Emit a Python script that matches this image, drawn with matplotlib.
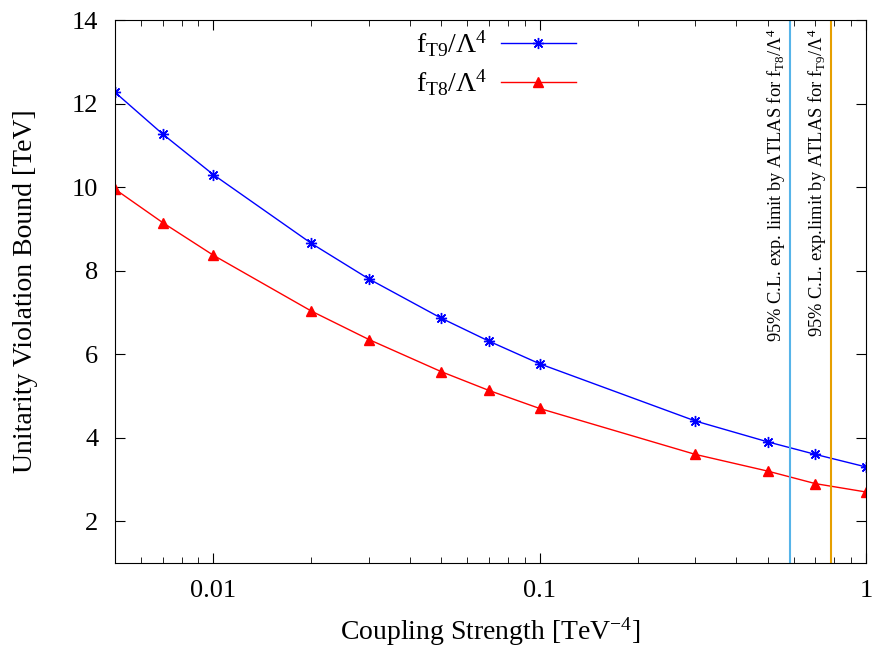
import matplotlib
matplotlib.use('Agg')
import matplotlib.pyplot as plt
from matplotlib.ticker import LogLocator, FixedLocator, NullFormatter

plt.rcParams['font.family'] = 'Liberation Serif'
plt.rcParams['mathtext.fontset'] = 'custom'
plt.rcParams['mathtext.rm'] = 'Liberation Serif'
plt.rcParams['mathtext.it'] = 'Liberation Serif:italic'

# coupling values and unitarity bounds
coupling = [0.005, 0.007, 0.01, 0.02, 0.03, 0.05, 0.07, 0.1, 0.3, 0.5, 0.7, 1.0]
bound_t9 = [12.27, 11.27, 10.3, 8.65, 7.8, 6.86, 6.31, 5.77, 4.4, 3.9, 3.6, 3.3]
bound_t8 = [9.95, 9.15, 8.37, 7.03, 6.35, 5.58, 5.13, 4.7, 3.6, 3.2, 2.9, 2.7]

limit_t8 = 0.585
limit_t9 = 0.78

fig = plt.figure(figsize=(8.73, 6.52), dpi=100)
ax = fig.add_axes([0.1317, 0.1365, 0.8603, 0.8328])

ax.plot(coupling, bound_t9, color='#0000ff', lw=1, marker=(8, 2, 0), ms=8,
        mew=1, label=r'$\mathrm{f_{T9}/\Lambda^4}$')
ax.plot(coupling, bound_t8, color='#ff0000', lw=1, marker='^', ms=7,
        label=r'$\mathrm{f_{T8}/\Lambda^4}$')

ax.axvline(limit_t8, color='#56b4e9', lw=1.5)
ax.axvline(limit_t9, color='#e69f00', lw=1.5)

ax.text(limit_t8 * 0.985, 13.8, r'95% C.L. exp. limit by ATLAS for $\mathrm{f_{T8}/\Lambda^4}$',
        rotation=90, ha='right', va='top', fontsize=13.3)
ax.text(limit_t9 * 0.985, 13.8, r'95% C.L. exp.limit by ATLAS for $\mathrm{f_{T9}/\Lambda^4}$',
        rotation=90, ha='right', va='top', fontsize=13.3)

ax.set_xscale('log')
ax.set_xlim(0.005, 1)
ax.set_ylim(1, 14)
ax.xaxis.set_major_locator(FixedLocator([0.01, 0.1, 1]))
ax.set_xticklabels(['0.01', '0.1', '1'])
ax.xaxis.set_minor_locator(LogLocator(base=10, subs=range(2, 10)))
ax.xaxis.set_minor_formatter(NullFormatter())
ax.set_yticks([2, 4, 6, 8, 10, 12, 14])

ax.tick_params(which='both', direction='in', top=True, right=True, labelsize=19)
ax.tick_params(which='major', length=7)
ax.tick_params(which='minor', length=4)
ax.tick_params(axis='x', pad=12)
ax.tick_params(axis='y', pad=12)

ax.set_xlabel(r'Coupling Strength [TeV$^{\mathrm{-4}}$]', fontsize=20, labelpad=10)
ax.set_ylabel('Unitarity Violation Bound [TeV]', fontsize=20, labelpad=24)

ax.legend(loc='upper left', bbox_to_anchor=(0.367, 1.03), frameon=False, markerfirst=False,
          fontsize=20, handlelength=2.7, handletextpad=0.5, labelspacing=0.32)

plt.savefig('out.png', dpi=100)
